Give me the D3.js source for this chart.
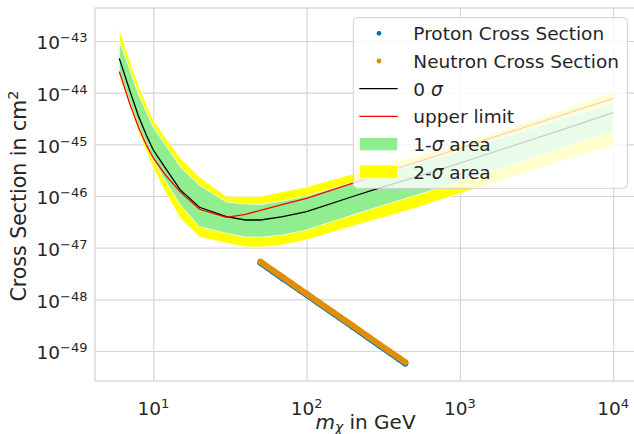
<!DOCTYPE html>
<html>
<head>
<meta charset="utf-8">
<script src="https://cdn.jsdelivr.net/npm/d3@7"></script>
<style>
  body { margin: 0; background: #fff; }
  svg text { font-family: "DejaVu Sans", sans-serif; fill: #262626; }
</style>
</head>
<body>
<svg class="limits" width="634" height="434"></svg>
<script>
// dark matter mass grid of the limit bands (GeV)
let massGeV = [6, 7, 8, 9, 10, 12, 15, 20, 30, 40, 50, 70, 100, 200, 300, 500, 1000, 2000, 5000, 10000];

// band edges and lines (cm^2)
let sigma2Up = [1.68e-43, 4.29e-44, 1.41e-44, 6.04e-45, 2.96e-45, 1.33e-45, 5.44e-46, 2.33e-46, 9.70e-47, 9.70e-47,
                9.70e-47, 1.21e-46, 1.49e-46, 2.67e-46, 3.64e-46, 5.69e-46, 9.71e-46, 1.94e-45, 4.94e-45, 1.02e-44];
let sigma1Up = [1.03e-43, 2.87e-44, 9.42e-45, 4.23e-45, 2.17e-45, 9.71e-46, 3.64e-46, 1.61e-46, 7.66e-47, 7.00e-47,
                6.85e-47, 8.00e-47, 1.00e-46, 1.83e-46, 2.55e-46, 4.07e-46, 7.43e-46, 1.42e-45, 3.38e-45, 6.45e-45];
let sigma0 = [4.62e-44, 1.13e-44, 3.54e-45, 1.52e-45, 7.77e-46, 3.48e-46, 1.31e-46, 6.05e-47, 3.98e-47, 3.43e-47,
              3.43e-47, 3.98e-47, 4.97e-47, 9.78e-47, 1.43e-46, 2.28e-46, 4.35e-46, 8.49e-46, 2.07e-45, 4.13e-45];
let sigma1Down = [2.51e-44, 6.90e-45, 2.37e-45, 1.02e-45, 4.98e-46, 1.95e-46, 6.70e-47, 2.55e-47, 1.90e-47, 1.61e-47,
                  1.59e-47, 1.76e-47, 2.20e-47, 4.29e-47, 6.27e-47, 1.00e-46, 1.91e-46, 3.76e-46, 9.29e-46, 1.84e-45];
let sigma2Down = [2.20e-44, 5.52e-45, 1.81e-45, 7.43e-46, 3.48e-46, 1.20e-46, 3.75e-47, 1.61e-47, 1.22e-47, 1.04e-47,
                  1.02e-47, 1.13e-47, 1.41e-47, 2.63e-47, 3.67e-47, 5.73e-47, 1.12e-46, 2.13e-46, 5.09e-46, 9.71e-46];
let upperLimit = [2.55e-44, 6.31e-45, 2.17e-45, 9.71e-46, 5.44e-46, 2.55e-46, 1.20e-46, 5.53e-47, 3.87e-47, 4.43e-47,
                  5.27e-47, 6.88e-47, 9.03e-47, 1.77e-46, 2.62e-46, 4.32e-46, 8.38e-46, 1.64e-45, 3.99e-45, 7.78e-45];

// model points (scatter)
let scatterMass = [50, 60, 70, 80, 90, 100, 120, 150, 200, 250, 300, 350, 400, 440];
let protonXS = [5.08e-48, 3.49e-48, 2.54e-48, 1.93e-48, 1.51e-48, 1.22e-48, 8.4e-49, 5.3e-49, 2.93e-49, 1.84e-49,
                1.26e-49, 9.2e-50, 7.0e-50, 5.75e-50];
let neutronXS = [5.35e-48, 3.67e-48, 2.67e-48, 2.03e-48, 1.59e-48, 1.28e-48, 8.81e-49, 5.56e-49, 3.08e-49, 1.94e-49,
                 1.33e-49, 9.71e-50, 7.38e-50, 6.05e-50];

// ticks
let xTicks = [10, 100, 1000, 10000];
let xTickExp = ['1', '2', '3', '4'];
let yTicks = [1e-43, 1e-44, 1e-45, 1e-46, 1e-47, 1e-48, 1e-49];
let yTickExp = ['\u221243', '\u221244', '\u221245', '\u221246', '\u221247', '\u221248', '\u221249'];

// legend entries
let legendLabels = ['Proton Cross Section', 'Neutron Cross Section', '0 \u03c3', 'upper limit', '1-\u03c3 area', '2-\u03c3 area'];

// setup
let plotLeft = 95, plotRight = 638, plotTop = 8, plotBottom = 381;
let gridColor = '#d5d5d5';
let blue = '#0173b2', orange = '#de8f05';

let x = d3.scaleLog().domain([10, 10000]).range([153.3, 613.2]);
let y = d3.scaleLog().domain([1e-43, 1e-49]).range([41, 351]);

let svg = d3.select('svg.limits');

svg.append('rect').attr('width', 634).attr('height', 434).style('fill', '#fff');

svg.append('defs').append('clipPath').attr('id', 'plotArea')
  .append('rect')
  .attr('x', plotLeft).attr('y', plotTop)
  .attr('width', plotRight - plotLeft).attr('height', plotBottom - plotTop);

// grid from the axes, labels drawn separately
let gx = svg.append('g')
  .attr('transform', `translate(0,${plotBottom})`)
  .call(d3.axisBottom(x).tickValues(xTicks).tickFormat('').tickSize(-(plotBottom - plotTop)));
let gy = svg.append('g')
  .attr('transform', `translate(${plotLeft},0)`)
  .call(d3.axisLeft(y).tickValues(yTicks).tickFormat('').tickSize(-(plotRight - plotLeft)));
[gx, gy].forEach(g => {
  g.select('.domain').remove();
  g.selectAll('line').style('stroke', gridColor).style('stroke-width', 1.2);
});

// plot frame
svg.append('rect')
  .attr('x', plotLeft).attr('y', plotTop)
  .attr('width', plotRight - plotLeft).attr('height', plotBottom - plotTop)
  .style('fill', 'none').style('stroke', gridColor).style('stroke-width', 1.3);

let plot = svg.append('g').attr('clip-path', 'url(#plotArea)');

let rows = massGeV.map((m, i) => ({
  m: m, y2u: sigma2Up[i], y1u: sigma1Up[i], y0: sigma0[i],
  y1d: sigma1Down[i], y2d: sigma2Down[i], ul: upperLimit[i]
}));

let band = (lo, hi) => d3.area().x(d => x(d.m)).y0(d => y(d[lo])).y1(d => y(d[hi]));
let liner = key => d3.line().x(d => x(d.m)).y(d => y(d[key]));

plot.append('path').attr('d', band('y2d', 'y2u')(rows))
  .style('fill', 'yellow').style('stroke', '#fff').style('stroke-width', 0.6);
plot.append('path').attr('d', band('y1d', 'y1u')(rows))
  .style('fill', 'lightgreen').style('stroke', '#fff').style('stroke-width', 0.8);
plot.append('path').attr('d', liner('y0')(rows))
  .style('fill', 'none').style('stroke', 'black').style('stroke-width', 1.3);
plot.append('path').attr('d', liner('ul')(rows))
  .style('fill', 'none').style('stroke', 'red').style('stroke-width', 1.3);

// dense scatter, drawn as its points and a thick trace
let scatter = [
  { color: blue, vals: protonXS },
  { color: orange, vals: neutronXS }
];
scatter.forEach(s => {
  let pts = scatterMass.map((m, i) => [x(m), y(s.vals[i])]);
  plot.append('path')
    .attr('d', d3.line()(pts))
    .style('fill', 'none').style('stroke', s.color)
    .style('stroke-width', 6).style('stroke-linecap', 'round');
  plot.selectAll(null).data(pts).enter().append('circle')
    .attr('cx', d => d[0]).attr('cy', d => d[1]).attr('r', 3)
    .style('fill', s.color);
});

// tick labels with superscripts
let xl = svg.selectAll('text.xtick').data(xTicks).enter().append('text')
  .attr('class', 'xtick')
  .attr('x', d => x(d)).attr('y', 415)
  .attr('text-anchor', 'middle')
  .style('font-size', '18.5px');
xl.append('tspan').text('10');
xl.append('tspan').attr('dy', -7.5).style('font-size', '13px').text((d, i) => xTickExp[i]);

let yl = svg.selectAll('text.ytick').data(yTicks).enter().append('text')
  .attr('class', 'ytick')
  .attr('x', 87.5).attr('y', d => y(d) + 8.3)
  .attr('text-anchor', 'end')
  .style('font-size', '18.5px');
yl.append('tspan').text('10');
yl.append('tspan').attr('dy', -7).style('font-size', '13px').text((d, i) => yTickExp[i]);

// axis titles
let xt = svg.append('text')
  .attr('x', (plotLeft + plotRight) / 2 - 1).attr('y', 429)
  .attr('text-anchor', 'middle')
  .style('font-size', '20px');
xt.append('tspan').style('font-style', 'italic').text('m');
xt.append('tspan').attr('dy', 2.5).style('font-style', 'italic').style('font-size', '14px').text('\u03c7');
xt.append('tspan').attr('dy', -2.5).text(' in GeV');

let yt = svg.append('text')
  .attr('transform', `translate(25.5,${(plotTop + plotBottom) / 2 + 1.5}) rotate(-90)`)
  .attr('text-anchor', 'middle')
  .style('font-size', '20.5px');
yt.append('tspan').text('Cross Section in cm');
yt.append('tspan').attr('dy', -8).style('font-size', '14.5px').text('2');

// legend
let legend = svg.append('g');
legend.append('rect')
  .attr('x', 353.3).attr('y', 17.7).attr('width', 274).attr('height', 170.6).attr('rx', 4)
  .style('fill', '#fff').style('fill-opacity', 0.8)
  .style('stroke', '#d0d0d0').style('stroke-width', 1);

let rowY = i => 33.3 + i * 27.7;
legend.append('circle').attr('cx', 379).attr('cy', rowY(0)).attr('r', 2.4).style('fill', blue);
legend.append('circle').attr('cx', 379).attr('cy', rowY(1)).attr('r', 2.4).style('fill', orange);
legend.append('line').attr('x1', 359.3).attr('x2', 397.7).attr('y1', rowY(2)).attr('y2', rowY(2))
  .style('stroke', 'black').style('stroke-width', 1.3);
legend.append('line').attr('x1', 359.3).attr('x2', 397.7).attr('y1', rowY(3)).attr('y2', rowY(3))
  .style('stroke', 'red').style('stroke-width', 1.3);
legend.append('rect').attr('x', 359.3).attr('y', rowY(4) - 6.7).attr('width', 38.4).attr('height', 13.4)
  .style('fill', 'lightgreen').style('stroke', '#fff').style('stroke-width', 0.8);
legend.append('rect').attr('x', 359.3).attr('y', rowY(5) - 6.7).attr('width', 38.4).attr('height', 13.4)
  .style('fill', 'yellow').style('stroke', '#fff').style('stroke-width', 0.6);

legend.selectAll('text').data(legendLabels).enter().append('text')
  .attr('x', 413.3).attr('y', (d, i) => rowY(i) + 6.8)
  .style('font-size', '18.5px')
  .each(function(d) {
    // sigma is set in italic like the mathtext original
    let parts = d.split('\u03c3');
    let t = d3.select(this);
    parts.forEach((p, k) => {
      if (k > 0) t.append('tspan').style('font-style', 'italic').text('\u03c3');
      t.append('tspan').text(p);
    });
  });
</script>
</body>
</html>
